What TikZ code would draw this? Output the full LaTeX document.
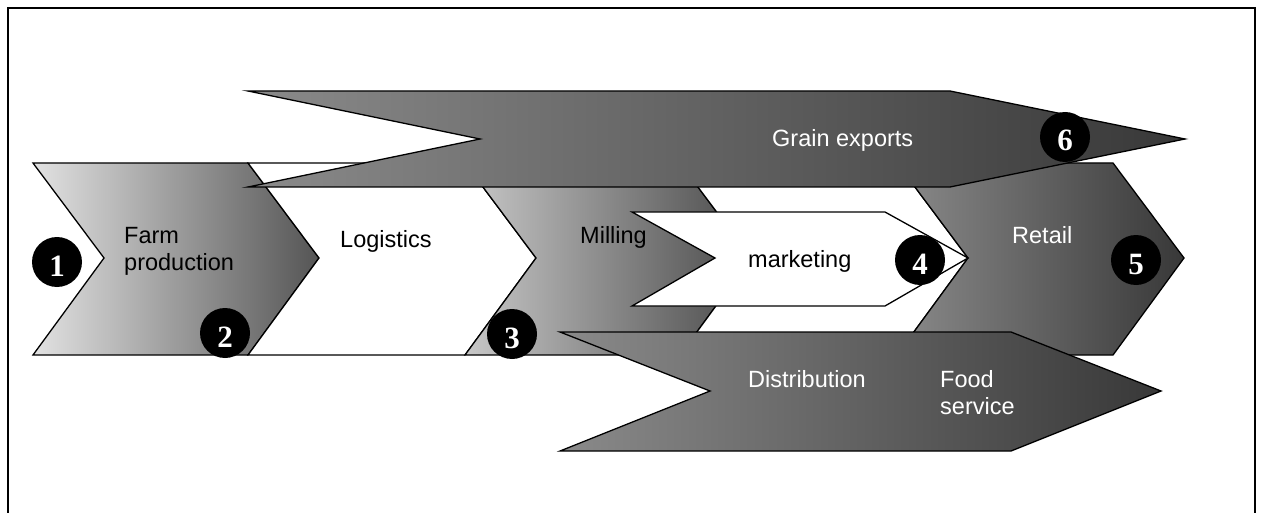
\documentclass[tikz,border=0pt]{standalone}
\usepackage{fontspec}
\setmainfont{Liberation Sans}
\newfontfamily\numfont{Liberation Serif}
\definecolor{farmL}{HTML}{E2E2E2}
\definecolor{farmR}{HTML}{555555}
\definecolor{millL}{HTML}{C8C8C8}
\definecolor{millR}{HTML}{4A4A4A}
\definecolor{darkL}{HTML}{8A8A8A}
\definecolor{darkR}{HTML}{383838}
\begin{document}
\begin{tikzpicture}[x=1pt,y=-1pt,
  chev/.style={draw=black, line width=1.3pt, line join=miter},
  lbl/.style={font=\fontsize{23.5}{27}\selectfont, inner sep=0pt, align=left},
  num/.style={circle, fill=black, minimum size=50pt, inner sep=0pt, text=white,
    font=\numfont\bfseries\fontsize{31}{31}\selectfont, text height=28pt, text depth=0pt}]
\useasboundingbox (0,0) rectangle (1263,513);
\draw[line width=2.5pt] (8,513) -- (8,8) -- (1255,8) -- (1255,513);
% main chevron row
\path[chev, left color=farmL, right color=farmR]
  (33,163) -- (248,163) -- (319,258) -- (248,355) -- (33,355) -- (104,258) -- cycle;
\path[chev, fill=white]
  (248,163) -- (465,163) -- (536,258) -- (465,355) -- (248,355) -- (319,258) -- cycle;
\path[chev, left color=millL, right color=millR]
  (465,163) -- (680,163) -- (751,258) -- (680,355) -- (465,355) -- (536,258) -- cycle;
\path[chev, fill=white]
  (680,163) -- (897,163) -- (968,258) -- (897,355) -- (680,355) -- (751,258) -- cycle;
\path[chev, left color=darkL, right color=darkR]
  (897,163) -- (1113,163) -- (1184,258) -- (1113,355) -- (897,355) -- (968,258) -- cycle;
% marketing
\path[chev, fill=white]
  (632,212) -- (885,212) -- (968,258) -- (885,306) -- (632,306) -- (715,258) -- cycle;
% grain exports
\path[chev, left color=darkL, right color=darkR]
  (248,91) -- (950,91) -- (1185,139) -- (950,187) -- (248,187) -- (480,139) -- cycle;
% distribution / food service
\path[chev, left color=darkL, right color=darkR]
  (560,332) -- (1011,332) -- (1161,391) -- (1011,451) -- (560,451) -- (710,391) -- cycle;
% labels
\node[lbl, anchor=base west] (tfarm) at (124,270) {Farm\\production};
\node[lbl, anchor=base west] (tlog) at (340,247) {Logistics};
\node[lbl, anchor=base west] (tmill) at (580,243) {Milling};
\node[lbl, anchor=base west] (tmark) at (748,267) {marketing};
\node[lbl, anchor=base west, text=white] (tret) at (1012,243) {Retail};
\node[lbl, anchor=base west, text=white] (tgrain) at (772,147) {Grain exports};
\node[lbl, anchor=base west, text=white] (tdist) at (748,387) {Distribution};
\node[lbl, anchor=base west, text=white] (tfood) at (940,414) {Food\\service};
% numbered circles
\node[num] (c1) at (57,262) {1};
\node[num] (c2) at (225,333) {2};
\node[num] (c3) at (512,334) {3};
\node[num] (c4) at (920,260) {4};
\node[num] (c5) at (1136,260) {5};
\node[num] (c6) at (1065,137) {6};
\end{tikzpicture}
\end{document}
